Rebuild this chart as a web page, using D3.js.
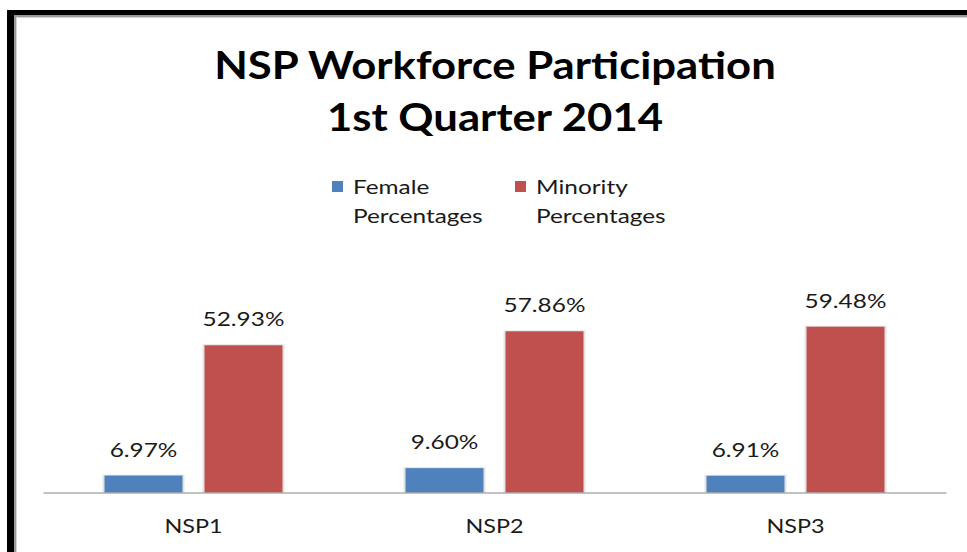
<!DOCTYPE html>
<html>
<head>
<meta charset="utf-8">
<script src="https://cdn.jsdelivr.net/npm/d3@7"></script>
<style>
  html, body { margin: 0; padding: 0; background: #fff; }
  svg { display: block; }
  text { font-family: Lato, "Open Sans", sans-serif; }
</style>
</head>
<body>
<script>
// данные
let categories = ["NSP1", "NSP2", "NSP3"];
let seriesNames = ["Female Percentages", "Minority Percentages"];
let femaleValues = [6.97, 9.60, 6.91];
let minorityValues = [52.93, 57.86, 59.48];
let titleLines = ["NSP Workforce Participation", "1st Quarter 2014"];

let width = 967, height = 552;
// текст в оригинале шире шрифта Lato, поэтому растягиваем по горизонтали
let stretchBig = 1.12, stretchSmall = 1.25;

let svg = d3.select("body").append("svg")
    .attr("width", width)
    .attr("height", height);

svg.append("rect").attr("width", width).attr("height", height).attr("fill", "#fff");

// рамка с тенью
svg.append("rect").attr("x", 7).attr("y", 10).attr("width", width).attr("height", height)
    .attr("fill", "#000");
svg.append("rect").attr("x", 14).attr("y", 15).attr("width", width).attr("height", height)
    .attr("fill", "#9a9a9a");
svg.append("rect").attr("x", 16).attr("y", 17).attr("width", width).attr("height", height)
    .attr("fill", "#d4d4d4");
svg.append("rect").attr("x", 17).attr("y", 18).attr("width", width).attr("height", height)
    .attr("fill", "#fff");

// заголовок
svg.append("g").selectAll("text")
    .data(titleLines)
    .join("text")
    .attr("transform", (d, i) => "translate(495," + (79 + i * 52) + ") scale(" + stretchBig + ",1)")
    .attr("text-anchor", "middle")
    .attr("font-size", 39)
    .attr("font-weight", "bold")
    .attr("fill", "#000")
    .text(d => d);

let table = categories.map((c, i) => ({
    category: c,
    values: [
        {series: seriesNames[0], value: femaleValues[i]},
        {series: seriesNames[1], value: minorityValues[i]}
    ]
}));

// шкалы
let x0 = d3.scaleBand()
    .domain(categories)
    .range([43, 946])
    .padding(0);
let x1 = d3.scaleBand()
    .domain(seriesNames)
    .range([-89, 89])
    .paddingInner(0.22)
    .paddingOuter(0);
let y = d3.scaleLinear()
    .domain([1, 70])
    .range([492.5, 492.5 - 69 * 2.835]);
let color = d3.scaleOrdinal()
    .domain(seriesNames)
    .range(["#4F81BD", "#C0504D"]);

let g = svg.append("g");

let groups = g.selectAll("g.cat")
    .data(table)
    .join("g")
    .attr("class", "cat")
    .attr("transform", d => "translate(" + (x0(d.category) + x0.bandwidth() / 2) + ",0)");

// лёгкая тень у столбцов
groups.selectAll("rect.shadow")
    .data(d => d.values)
    .join("rect")
    .attr("class", "shadow")
    .attr("x", d => x1(d.series) - 2)
    .attr("y", d => y(d.value) - 1)
    .attr("width", x1.bandwidth() + 4)
    .attr("height", d => y(1) - y(d.value) + 1)
    .attr("fill", "#e4e4e4");

groups.selectAll("rect.bar")
    .data(d => d.values)
    .join("rect")
    .attr("class", "bar")
    .attr("x", d => x1(d.series))
    .attr("y", d => y(d.value))
    .attr("width", x1.bandwidth())
    .attr("height", d => y(1) - y(d.value))
    .attr("fill", d => color(d.series));

groups.selectAll("text.label")
    .data(d => d.values)
    .join("text")
    .attr("class", "label")
    .attr("transform", d => "translate(" + (x1(d.series) + x1.bandwidth() / 2) + "," + (y(d.value) - 19) + ") scale(" + stretchSmall + ",1)")
    .attr("text-anchor", "middle")
    .attr("font-size", 19.5)
    .attr("fill", "#1a1a1a")
    .text(d => d.value.toFixed(2) + "%");

// ось X
let xAxis = g.append("g")
    .attr("transform", "translate(0," + y(1) + ")")
    .call(d3.axisBottom(x0).tickSize(0).tickPadding(26));
xAxis.select(".domain").attr("stroke", "#868686").attr("stroke-width", 1);
xAxis.selectAll(".tick text")
    .attr("font-size", 20)
    .attr("fill", "#1a1a1a")
    .attr("font-family", "Lato, 'Open Sans', sans-serif")
    .attr("transform", "scale(1.17,1)");

// легенда
let legendX = [332, 515];
let legend = svg.append("g").selectAll("g")
    .data(seriesNames)
    .join("g")
    .attr("transform", (d, i) => "translate(" + legendX[i] + ",181)");
legend.append("rect")
    .attr("width", 11)
    .attr("height", 11)
    .attr("fill", d => color(d));
legend.append("text")
    .attr("transform", "translate(21,13) scale(" + stretchSmall + ",1)")
    .attr("font-size", 19.5)
    .attr("fill", "#1a1a1a")
    .selectAll("tspan")
    .data(d => d.split(" "))
    .join("tspan")
    .attr("x", 0)
    .attr("dy", (d, i) => i === 0 ? 0 : 29)
    .text(d => d);
</script>
</body>
</html>
